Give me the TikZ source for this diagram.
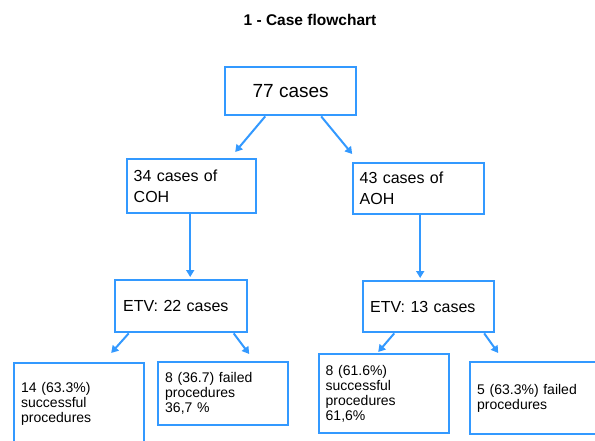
\documentclass[tikz,border=0pt]{standalone}
\usepackage{fontspec}
\setmainfont{Liberation Sans}
\usetikzlibrary{arrows.meta}
\definecolor{flowblue}{RGB}{51,153,255}
\begin{document}
\begin{tikzpicture}[x=1pt,y=-1pt,
  box/.style={draw=flowblue,line width=2.4pt,anchor=north west,inner xsep=6.5pt,inner ysep=0pt,align=left},
  bigtxt/.style={font=\fontsize{16}{21}\selectfont},
  smalltxt/.style={font=\fontsize{14}{15}\selectfont},
  arr/.style={draw=flowblue,line width=2pt,-{Triangle[length=7pt,width=8pt]}}]
\useasboundingbox (0,0) rectangle (595,441);
\clip (0,0) rectangle (595,441);
\node[font=\fontsize{15.5}{18}\selectfont\bfseries,anchor=base] (title) at (310,26) {1 - Case flowchart};
\node[box,align=center,minimum width=131pt,minimum height=48pt,font=\fontsize{19}{23}\selectfont] (A) at (224,66) {77 cases};
\node[box,bigtxt,text width=116pt,minimum height=54pt] (B) at (126,158) {34 cases of\\COH};
\node[box,bigtxt,text width=118pt,minimum height=51pt] (C) at (352,162) {43 cases of\\AOH};
\node[box,bigtxt,text width=116pt,minimum height=52pt,inner xsep=8pt] (D) at (114,279) {ETV: 22 cases};
\node[box,bigtxt,text width=117pt,minimum height=51pt,inner xsep=7pt] (E) at (362,280) {ETV: 13 cases};
\node[box,smalltxt,text width=116pt,minimum height=81pt,inner xsep=7pt] (F) at (13,362) {14 (63.3\%)\\successful\\procedures};
\node[box,smalltxt,text width=116pt,minimum height=63pt,inner xsep=7pt] (G) at (157,361) {8 (36.7) failed\\procedures\\36,7 \%};
\node[box,smalltxt,text width=117pt,minimum height=79pt] (H) at (318,353) {8 (61.6\%)\\successful\\procedures\\61,6\%};
\node[box,smalltxt,text width=116pt,minimum height=72pt,inner xsep=7pt] (I) at (469,361) {5 (63.3\%) failed\\procedures};
\coordinate (bs) at ([xshift=-1.5pt]B.south);
\coordinate (cs) at ([xshift=1.5pt]C.south);
\draw[arr] ([xshift=-25.5pt]A.south) -- ([xshift=43.5pt,yshift=6pt]B.north);
\draw[arr] ([xshift=30.5pt]A.south) -- ([xshift=-66.5pt,yshift=8pt]C.north);
\draw[arr] (bs) -- ([yshift=2pt]bs |- D.north);
\draw[arr] (cs) -- ([yshift=2pt]cs |- E.north);
\draw[arr] ([xshift=-52.5pt]D.south) -- ([xshift=32pt,yshift=9pt]F.north);
\draw[arr] ([xshift=52.5pt]D.south) -- ([xshift=26pt,yshift=7pt]G.north);
\draw[arr] ([xshift=-34.5pt]E.south) -- ([xshift=-6pt,yshift=1pt]H.north);
\draw[arr] ([xshift=55.5pt]E.south) -- ([xshift=-37pt,yshift=8pt]I.north);
\end{tikzpicture}
\end{document}
